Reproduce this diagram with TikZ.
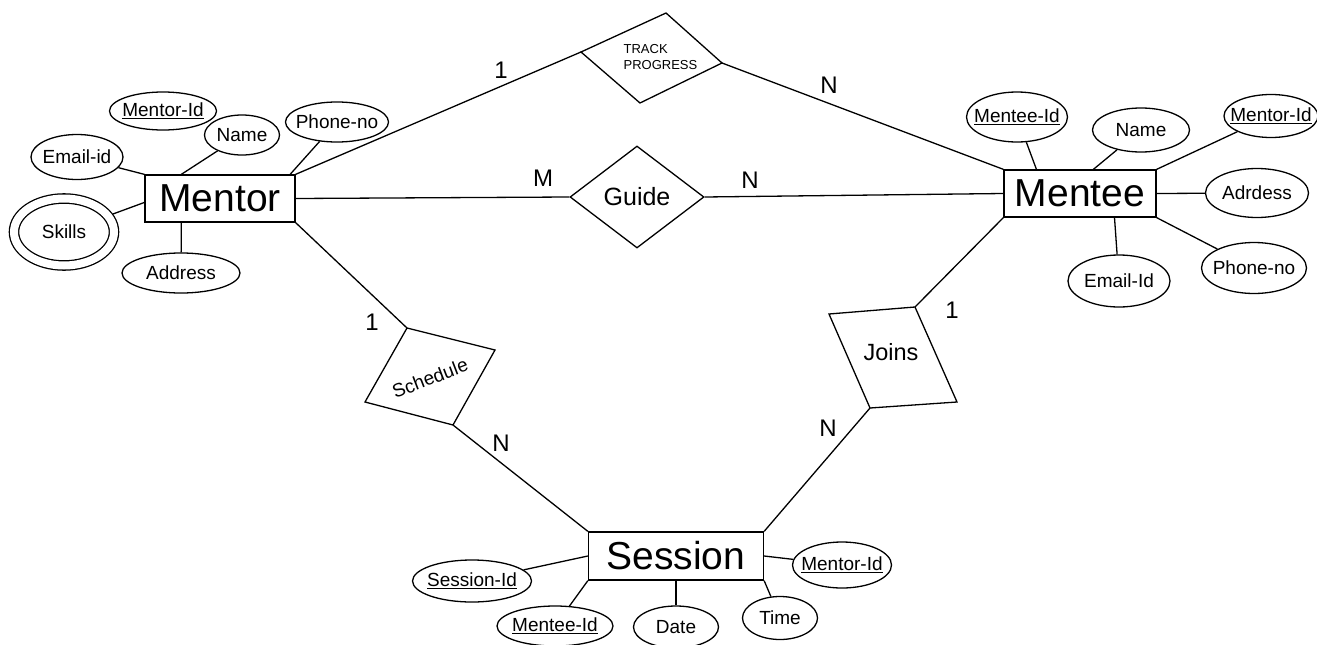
\documentclass[tikz,border=0pt]{standalone}
\usepackage{fontspec}
\setmainfont{Liberation Sans}
\usetikzlibrary{shapes.geometric}

\newcommand{\attrtxt}[1]{\makebox[0pt]{#1}}

\begin{document}
\begin{tikzpicture}[x=1pt,y=-1pt,line width=1.3pt,inner sep=0pt,
  wh/.style 2 args={minimum width=#1pt,minimum height=#2pt}]
  \tikzstyle{entity}=[draw,rectangle,font=\fontsize{39}{42}\selectfont]
  \tikzstyle{attr}=[draw,ellipse,font=\fontsize{19}{21}\selectfont]
  \tikzstyle{card}=[font=\fontsize{24}{26}\selectfont]

  \useasboundingbox (0,0) rectangle (1317,645);

  % entities
  \node[entity,wh={150}{47}] (mentor)  at (220,198.5) {Mentor};
  \node[entity,wh={152}{47}] (mentee)  at (1080,193.5) {Mentee};
  \node[entity,wh={175}{48}] (session) at (676,556) {Session};

  % relationships
  \node[draw,diamond,wh={134}{102},font=\fontsize{25}{27}\selectfont]
    (guide) at (637,197) {\attrtxt{Guide}};

  \coordinate (tp-l) at (581,52);  \coordinate (tp-t) at (666,13);
  \coordinate (tp-r) at (722,63);  \coordinate (tp-b) at (640,103);
  \draw (tp-l) -- (tp-t) -- (tp-r) -- (tp-b) -- cycle;
  \node[align=left,anchor=west,font=\fontsize{13}{16}\selectfont]
    (track) at (623,57) {TRACK\\PROGRESS};

  \coordinate (sc-t) at (407,328); \coordinate (sc-r) at (495,350);
  \coordinate (sc-b) at (453,425); \coordinate (sc-l) at (365,402);
  \draw (sc-t) -- (sc-r) -- (sc-b) -- (sc-l) -- cycle;
  \node[rotate=21,font=\fontsize{19}{21}\selectfont] (schedule) at (430,378) {Schedule};

  \coordinate (jn-tl) at (829,314); \coordinate (jn-tr) at (915,307);
  \coordinate (jn-br) at (957,402); \coordinate (jn-bl) at (870,408);
  \draw (jn-tl) -- (jn-tr) -- (jn-br) -- (jn-bl) -- cycle;
  \node[font=\fontsize{23.5}{25}\selectfont] (joins) at (891,352) {Joins};

  % mentor attributes
  \node[attr,wh={107}{38}] (mr-id)    at (163,111) {\attrtxt{\underline{Mentor-Id}}};
  \node[attr,wh={75}{40}]  (mr-name)  at (242,135) {\attrtxt{Name}};
  \node[attr,wh={103}{40}] (mr-phone) at (337,122) {\attrtxt{Phone-no}};
  \node[attr,wh={92}{45}]  (mr-email) at (77,157)  {\attrtxt{Email-id}};
  \node[attr,wh={100}{67},double,double distance=8pt,outer sep=4.8pt]
    (mr-skills) at (64,232) {\attrtxt{Skills}};
  \node[attr,wh={118}{40}] (mr-addr)  at (181,273) {\attrtxt{Address}};

  % mentee attributes
  \node[attr,wh={101}{50}] (me-id)    at (1017,117) {\attrtxt{\underline{Mentee-Id}}};
  \node[attr,wh={97}{44}]  (me-name)  at (1141,130) {\attrtxt{Name}};
  \node[attr,wh={94}{43}]  (me-mrid)  at (1271,116) {\attrtxt{\underline{Mentor-Id}}};
  \node[attr,wh={103}{49}] (me-addr)  at (1257,193) {\attrtxt{Adrdess}};
  \node[attr,wh={102}{52}] (me-email) at (1119,281) {\attrtxt{Email-Id}};
  \node[attr,wh={105}{51}] (me-phone) at (1254,268) {\attrtxt{Phone-no}};

  % session attributes
  \node[attr,wh={119}{42}] (s-id)   at (472,581) {\attrtxt{\underline{Session-Id}}};
  \node[attr,wh={116}{40}] (s-meid) at (555,626) {\attrtxt{\underline{Mentee-Id}}};
  \node[attr,wh={85}{42}]  (s-date) at (676,627) {\attrtxt{Date}};
  \node[attr,wh={75}{43}]  (s-time) at (780,618) {\attrtxt{Time}};
  \node[attr,wh={99}{46}]  (s-mrid) at (842,565) {\attrtxt{\underline{Mentor-Id}}};

  % attribute links
  \draw (mr-name) -- (mentor.148);
  \draw (mr-phone) -- (mentor.19);
  \draw (mr-email) -- (mentor.north west);
  \draw (mr-skills) -- (mentor.183);
  \draw (mr-addr) -- (mentor.212);

  \draw (me-id) -- (mentee.151);
  \draw (me-name) -- (mentee.61);
  \draw (me-mrid) -- (mentee.north east);
  \draw (me-addr) -- (mentee.east);
  \draw (me-email) -- (mentee.325);
  \draw (me-phone) -- (mentee.south east);

  \draw (s-id) -- (session.west);
  \draw (s-meid) -- (session.south west);
  \draw (s-date) -- (session.south);
  \draw (s-time) -- (session.south east);
  \draw (s-mrid) -- (session.east);

  % relationship links
  \draw (mentor.north east) -- (tp-l);
  \draw (tp-r) -- (mentee.north west);
  \draw (mentor.east) -- (guide.west);
  \draw (guide.east) -- (mentee.west);
  \draw (mentor.south east) -- (sc-t);
  \draw (sc-b) -- (session.north west);
  \draw (mentee.south west) -- (jn-tr);
  \draw (jn-bl) -- (session.north east);

  % cardinalities
  \node[card] (c-tp1) at (501,70)  {1};
  \node[card] (c-tpn) at (829,85)  {N};
  \node[card] (c-gm)  at (543,178) {M};
  \node[card] (c-gn)  at (750,180) {N};
  \node[card] (c-sc1) at (372,322) {1};
  \node[card] (c-scn) at (501,443) {N};
  \node[card] (c-jn1) at (952,310) {1};
  \node[card] (c-jnn) at (828,428) {N};
\end{tikzpicture}
\end{document}
